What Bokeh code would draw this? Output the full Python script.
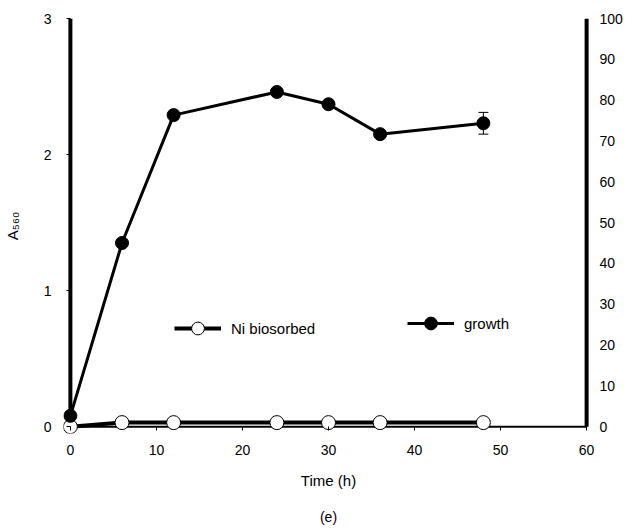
from bokeh.plotting import figure
from bokeh.models import (Range1d, LinearAxis, Legend, LegendItem, Title,
                          Whisker, ColumnDataSource, FixedTicker)
from bokeh.embed import file_html
from bokeh.resources import INLINE

# ---- data ----
time_h = [0, 6, 12, 24, 30, 36, 48]
growth_a560 = [0.08, 1.35, 2.29, 2.46, 2.37, 2.15, 2.23]
growth_err = [0, 0, 0, 0, 0, 0, 0.08]
ni_biosorbed = [0, 1.0, 1.0, 1.0, 1.0, 1.0, 1.0]
left_ticks = [0, 1, 2, 3]
right_ticks = [0, 10, 20, 30, 40, 50, 60, 70, 80, 90, 100]
x_ticks = [0, 10, 20, 30, 40, 50, 60]

FONT = "Liberation Sans"
XPAD = 0.8
YPAD = 0.05

p = figure(frame_width=530, frame_height=415, output_backend="svg",
           toolbar_location=None,
           x_range=Range1d(x_ticks[0] - XPAD, x_ticks[-1] + XPAD),
           y_range=Range1d(left_ticks[0] - YPAD, left_ticks[-1]),
           x_axis_location=None, y_axis_location=None,
           min_border_left=0, min_border_right=0, min_border_top=18,
           min_border_bottom=0)
rpad = YPAD * right_ticks[-1] / left_ticks[-1]
p.extra_y_ranges = {"right": Range1d(right_ticks[0] - rpad, right_ticks[-1])}
p.grid.visible = False
p.outline_line_color = None
p.background_fill_color = "white"


def style(ax, size="14px"):
    ax.major_label_text_font = FONT
    ax.major_label_text_font_size = size
    ax.major_label_text_color = "black"
    ax.axis_line_color = None
    ax.major_tick_line_color = "black"
    ax.major_tick_line_width = 1
    ax.major_tick_in = 7
    ax.major_tick_out = -3
    ax.minor_tick_line_color = None


xax = LinearAxis(ticker=FixedTicker(ticks=x_ticks))
style(xax)
xax.axis_label = "Time (h)"
xax.axis_label_text_font = FONT
xax.axis_label_text_font_size = "15px"
xax.axis_label_text_font_style = "normal"
xax.axis_label_text_color = "black"
xax.axis_label_standoff = 14
xax.major_label_standoff = 11
p.add_layout(xax, "below")

lax = LinearAxis(ticker=FixedTicker(ticks=left_ticks))
style(lax)
lax.major_label_standoff = 12
lax.axis_label = "A\u2085\u2086\u2080"
lax.axis_label_text_font = FONT
lax.axis_label_text_font_size = "15px"
lax.axis_label_text_font_style = "normal"
lax.axis_label_text_color = "black"
lax.axis_label_standoff = 20
p.add_layout(lax, "left")

rax = LinearAxis(y_range_name="right", ticker=FixedTicker(ticks=right_ticks))
style(rax)
rax.major_tick_line_color = None
rax.major_label_standoff = 6
p.add_layout(rax, "right")

p.add_layout(Title(text="(e)", align="center", text_font=FONT,
                   text_font_size="14px", text_font_style="normal",
                   text_color="black", standoff=30), "below")

# axis lines through the data origin
p.segment(x0=[x_ticks[0], x_ticks[-1]], y0=[left_ticks[0]] * 2,
          x1=[x_ticks[0], x_ticks[-1]], y1=[left_ticks[-1]] * 2,
          line_color="black", line_width=4)
p.segment(x0=[x_ticks[0]], y0=[left_ticks[0]], x1=[x_ticks[-1]],
          y1=[left_ticks[0]], line_color="black", line_width=2)

# Ni biosorbed (right axis)
ni_line = p.line(time_h, ni_biosorbed, y_range_name="right", line_color="black",
                 line_width=4)
ni_pts = p.scatter(time_h, ni_biosorbed, y_range_name="right", size=14,
                   fill_color="white", line_color="black", line_width=1)

# growth
src = ColumnDataSource(dict(t=time_h, g=growth_a560,
                            lo=[g - e for g, e in zip(growth_a560, growth_err)],
                            hi=[g + e for g, e in zip(growth_a560, growth_err)]))
g_line = p.line("t", "g", source=src, line_color="black", line_width=3)
wh = Whisker(base="t", lower="lo", upper="hi", source=src, line_width=1,
             line_color="black")
wh.upper_head.size = 10
wh.lower_head.size = 10
wh.upper_head.line_width = 1
wh.lower_head.line_width = 1
p.add_layout(wh)
g_pts = p.scatter("t", "g", source=src, size=13, fill_color="black",
                  line_color="black")

# legends
for items, loc in (([LegendItem(label="Ni biosorbed", renderers=[ni_line, ni_pts])], (111, 89)),
                   ([LegendItem(label="growth", renderers=[g_line, g_pts])], (344, 94))):
    lg = Legend(items=items, location=loc, padding=0, margin=0,
                border_line_color=None, background_fill_alpha=0,
                glyph_width=47, glyph_height=32, label_height=32,
                label_standoff=10, label_text_font=FONT,
                label_text_font_size="15px", label_text_color="black")
    p.add_layout(lg)

open("out.html", "w").write(file_html(p, INLINE))
